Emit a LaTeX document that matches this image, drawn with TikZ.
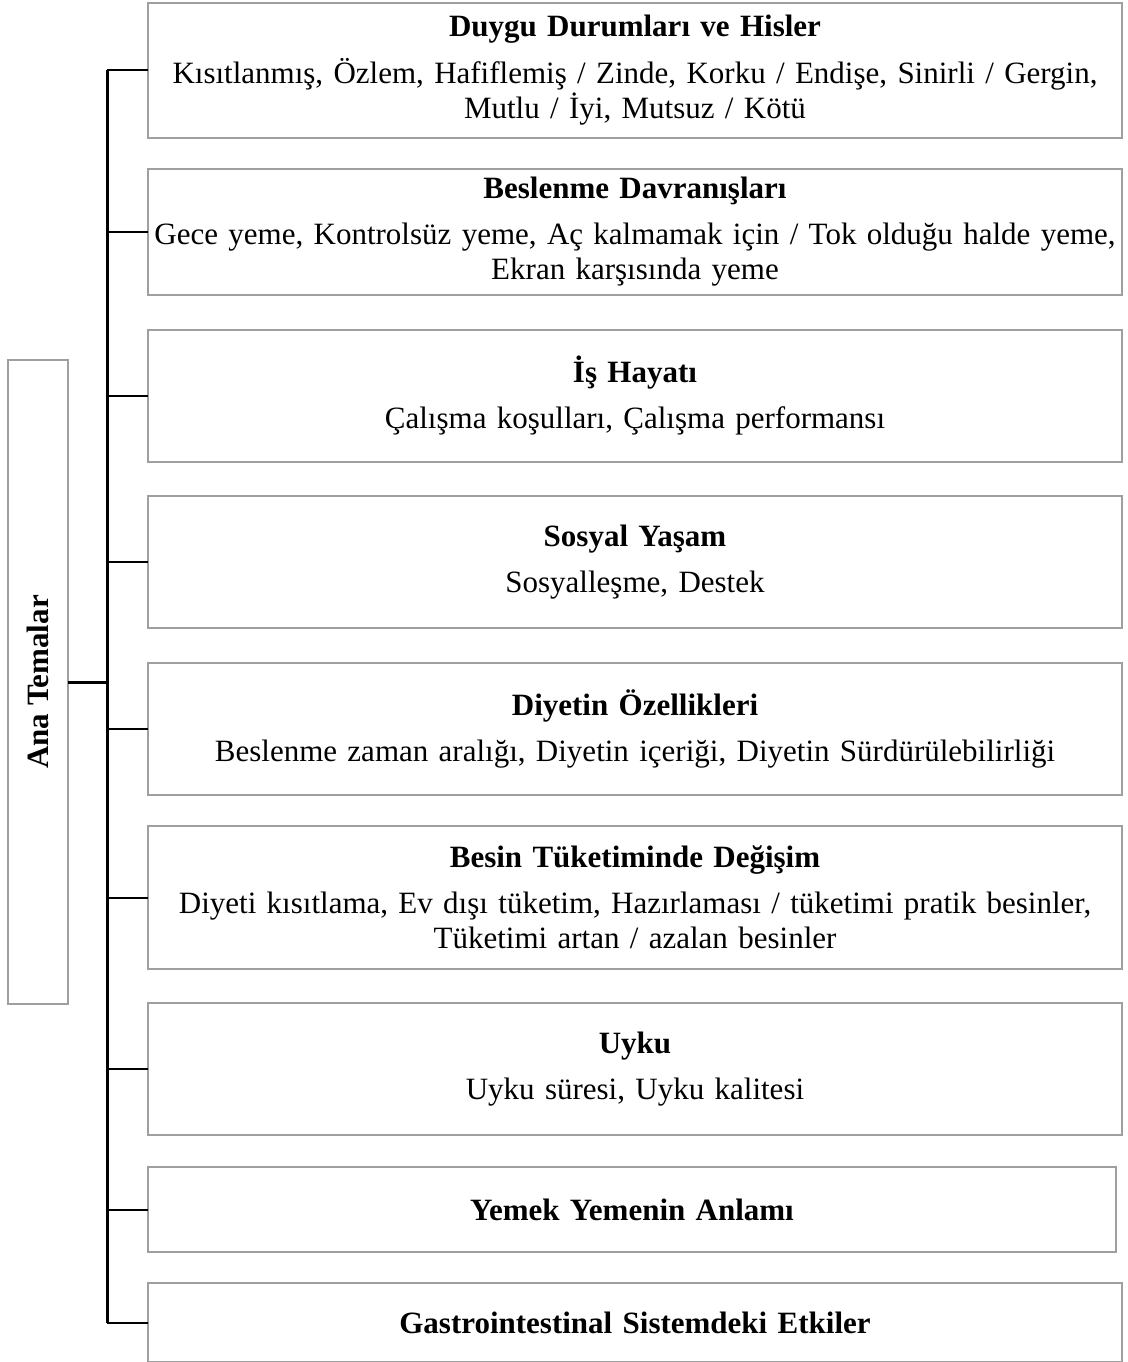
\documentclass[tikz,border=0pt]{standalone}
\usepackage{fontspec}
\setmainfont{Liberation Serif}
\usetikzlibrary{positioning}

\begin{document}
\begin{tikzpicture}[x=1pt, y=-1pt,
    theme/.style = {draw=gray!75, line width=1.2pt, text width=968pt, inner xsep=3pt, inner ysep=0pt,
                    outer sep=0pt, align=center, font=\fontsize{31}{35}\selectfont},
    branch/.style = {line width=2pt},
    trunkline/.style = {line width=3pt}]
    \useasboundingbox (0,0) rectangle (1127,1362);

    % main themes
    \node[theme, anchor=north west, minimum height=135pt] (t1) at (148,3)
        {{\bfseries Duygu Durumları ve Hisler}\\[12pt]Kısıtlanmış, Özlem, Hafiflemiş / Zinde, Korku / Endişe, Sinirli / Gergin,\\Mutlu / İyi, Mutsuz / Kötü};
    \node[theme, minimum height=126pt] (t2) [below=31pt of t1.south west, anchor=north west]
        {{\bfseries Beslenme Davranışları}\\[11pt]Gece yeme, Kontrolsüz yeme, Aç kalmamak için / Tok olduğu halde yeme,\\Ekran karşısında yeme};
    \node[theme, minimum height=132pt] (t3) [below=35pt of t2.south west, anchor=north west]
        {{\bfseries İş Hayatı}\\[11pt]Çalışma koşulları, Çalışma performansı};
    \node[theme, minimum height=132pt] (t4) [below=34pt of t3.south west, anchor=north west]
        {{\bfseries Sosyal Yaşam}\\[11pt]Sosyalleşme, Destek};
    \node[theme, minimum height=132pt] (t5) [below=35pt of t4.south west, anchor=north west]
        {{\bfseries Diyetin Özellikleri}\\[11pt]Beslenme zaman aralığı, Diyetin içeriği, Diyetin Sürdürülebilirliği};
    \node[theme, minimum height=143pt] (t6) [below=31pt of t5.south west, anchor=north west]
        {{\bfseries Besin Tüketiminde Değişim}\\[11pt]Diyeti kısıtlama, Ev dışı tüketim, Hazırlaması / tüketimi pratik besinler,\\Tüketimi artan / azalan besinler};
    \node[theme, minimum height=132pt] (t7) [below=34pt of t6.south west, anchor=north west]
        {{\bfseries Uyku}\\[11pt]Uyku süresi, Uyku kalitesi};
    \node[theme, minimum height=85pt, text width=962pt] (t8) [below=32pt of t7.south west, anchor=north west]
        {\bfseries Yemek Yemenin Anlamı};
    \node[theme, minimum height=79pt] (t9) [below=31pt of t8.south west, anchor=north west]
        {\bfseries Gastrointestinal Sistemdeki Etkiler};

    % root
    \node[draw=gray!75, line width=1.2pt, outer sep=0pt, rotate=90, minimum width=644pt, minimum height=60pt,
          font=\fontsize{31}{35}\selectfont\bfseries] (ana) at (38,682) {Ana Temalar};
    \coordinate (trunk) at (107,0);

    % tree edges
    \draw[trunkline] (trunk |- t1.west) -- (trunk |- t9.west);
    \draw[trunkline] (ana.south) -- (trunk |- ana.south);
    \draw[branch] (trunk |- t1.west) -- (t1.west);
    \draw[branch] (trunk |- t2.west) -- (t2.west);
    \draw[branch] (trunk |- t3.west) -- (t3.west);
    \draw[branch] (trunk |- t4.west) -- (t4.west);
    \draw[branch] (trunk |- t5.west) -- (t5.west);
    \draw[branch] (trunk |- t6.west) -- (t6.west);
    \draw[branch] (trunk |- t7.west) -- (t7.west);
    \draw[branch] (trunk |- t8.west) -- (t8.west);
    \draw[branch] (trunk |- t9.west) -- (t9.west);
\end{tikzpicture}
\end{document}
